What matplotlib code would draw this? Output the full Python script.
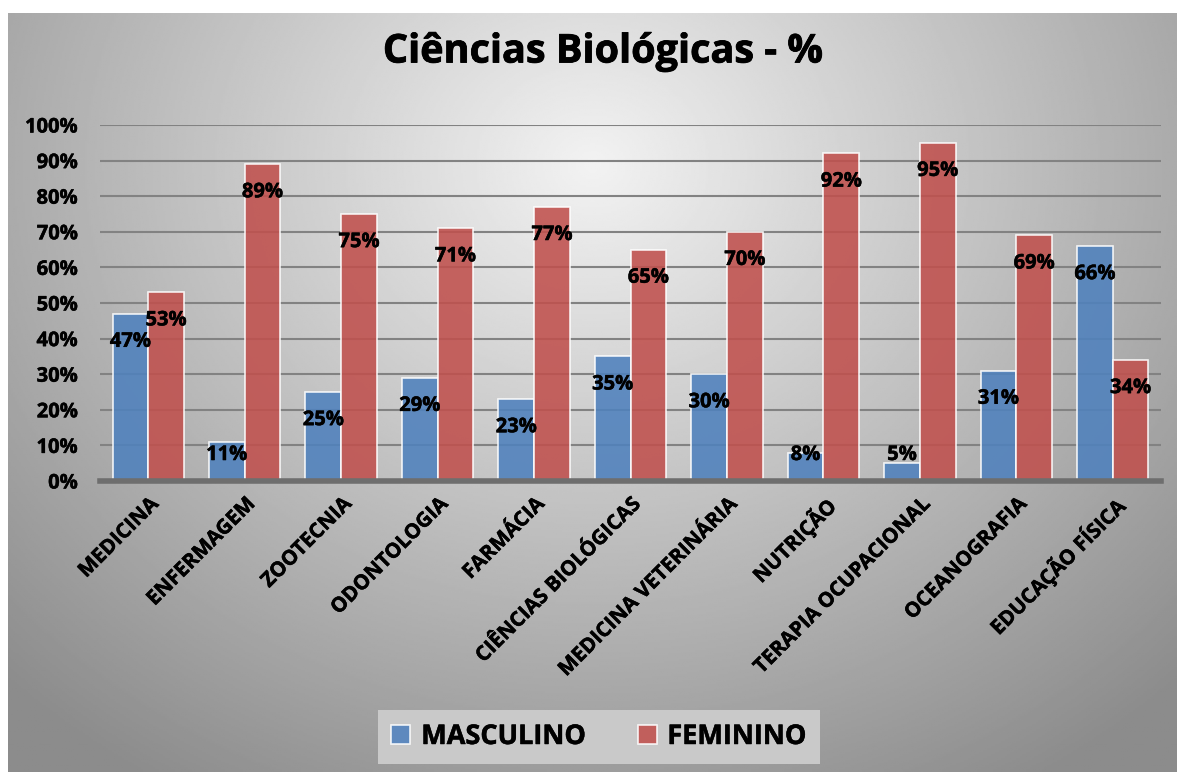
import matplotlib.pyplot as plt
import matplotlib.patheffects as pe
import numpy as np
import matplotlib

matplotlib.rcParams['font.family'] = ['Open Sans', 'DejaVu Sans']
matplotlib.rcParams['font.weight'] = 'bold'

cursos = ['MEDICINA', 'ENFERMAGEM', 'ZOOTECNIA', 'ODONTOLOGIA', 'FARMÁCIA',
          'CIÊNCIAS BIOLÓGICAS', 'MEDICINA VETERINÁRIA', 'NUTRIÇÃO',
          'TERAPIA OCUPACIONAL', 'OCEANOGRAFIA', 'EDUCAÇÃO FÍSICA']
masculino = [47, 11, 25, 29, 23, 35, 30, 8, 5, 31, 66]
feminino = [53, 89, 75, 71, 77, 65, 70, 92, 95, 69, 34]
y_ticks = [0, 10, 20, 30, 40, 50, 60, 70, 80, 90, 100]

heavy = [pe.withStroke(linewidth=0.35, foreground='black')]

W, H = 1177, 772
fig = plt.figure(figsize=(W / 100, H / 100), dpi=100)
fig.patch.set_facecolor('white')

# gray radial background panel
bg = fig.add_axes([8 / W, 0, 1 - 8 / W, 1 - 13 / H], zorder=-10)
yy, xx = np.mgrid[0:1:400j, 0:1:600j]
d = np.sqrt(((xx - 0.5) / 0.75) ** 2 + ((yy - 0.2) / 1.0) ** 2)
grad = np.clip(0.95 - 0.42 * d, 0.55, 0.95)
bg.imshow(grad, cmap='gray', vmin=0, vmax=1, aspect='auto', extent=[0, 1, 1, 0])
bg.axis('off')

ax = fig.add_axes([100 / W, 1 - 481 / H, 1061 / W, 356 / H])
ax.patch.set_alpha(0)
x = np.arange(len(cursos))
bw = 0.37
b1 = ax.bar(x - bw / 2, masculino, bw, color='#4f81bd', alpha=0.88,
            edgecolor=(1, 1, 1, 0.35), linewidth=1.2, zorder=3, label='MASCULINO')
b2 = ax.bar(x + bw / 2, feminino, bw, color='#c0504d', alpha=0.88,
            edgecolor=(1, 1, 1, 0.35), linewidth=1.2, zorder=3, label='FEMININO')

for xs, vals in [(x - bw / 2, masculino), (x + bw / 2, feminino)]:
    for xi, v in zip(xs, vals):
        ax.text(xi, max(v - 7.9, 7.3), f'{v}%', ha='center', va='center',
                fontsize=14.5, fontweight='bold', color='black', zorder=5,
                path_effects=heavy)

ax.set_xlim(-0.5, len(cursos) - 0.5)
ax.set_ylim(0, 100)
ax.set_yticks(y_ticks)
ax.set_yticklabels([f'{t}%' for t in y_ticks], fontsize=14.5, fontweight='bold')
ax.yaxis.grid(True, color='#828282', linewidth=1.5, zorder=0)
ax.tick_params(axis='y', length=0, pad=16)
ax.tick_params(axis='x', length=0, pad=9)
ax.set_xticks(x)
ax.set_xticklabels(cursos, rotation=45, ha='right', rotation_mode='anchor',
                   fontsize=14.8, fontweight='bold')
for lab in ax.get_xticklabels() + ax.get_yticklabels():
    lab.set_path_effects(heavy)
for s in ['top', 'right', 'left']:
    ax.spines[s].set_visible(False)
ax.spines['bottom'].set_color('#6e6e6e')
ax.spines['bottom'].set_linewidth(4)
ax.spines['bottom'].set_zorder(4)

fig.text(603 / W, 1 - 52 / H, 'Ciências Biológicas - %', ha='center', va='center',
         fontsize=28.5, fontweight='bold',
         path_effects=[pe.withStroke(linewidth=0.6, foreground='black')])

leg = fig.legend(handles=[b1, b2], loc='center', bbox_to_anchor=(599 / W, 1 - 737 / H),
                 ncol=2, fontsize=19.5, frameon=True, fancybox=False,
                 handlelength=0.7, handleheight=0.7, handletextpad=0.4,
                 columnspacing=1.9, borderpad=0.5)
leg.get_frame().set_facecolor('#c9c9c9')
leg.get_frame().set_edgecolor('none')
leg.get_frame().set_alpha(1)
for t in leg.get_texts():
    t.set_fontweight('bold')
    t.set_path_effects(heavy)

plt.savefig('out.png', dpi=100)
